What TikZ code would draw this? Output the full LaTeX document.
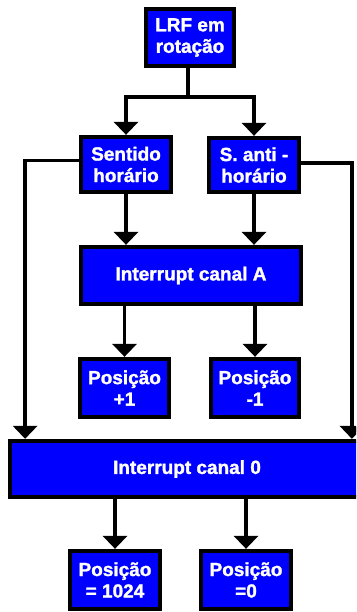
\documentclass[tikz,border=0pt]{standalone}
\usepackage{fontspec}
\setmainfont{Liberation Sans}[BoldFeatures={FakeBold=1.5}]
\usetikzlibrary{arrows.meta}

\begin{document}
\begin{tikzpicture}[x=1pt,y=-1pt,line width=3.8pt,
  blk/.style={draw=black,fill=blue,text=white,inner sep=0pt,align=center,
    font=\bfseries\fontsize{19}{21.5}\selectfont,minimum height=57.5pt},
  arr/.style={-{Triangle[length=13pt,width=24pt]}}]
\useasboundingbox (0,0) rectangle (356,612);
\clip (0,0) rectangle (356,612);
% ---------- boxes ----------
\node[blk,minimum width=88.5pt] (rot) at (190,37.5) {LRF em\\rotação};
\node[blk,minimum width=90.5pt,minimum height=55.5pt] (sent) at (126,164.5) {Sentido\\horário};
\node[blk,minimum width=90.5pt,minimum height=54.5pt] (anti) at (254,165) {S. anti -\\horário};
\node[blk,minimum width=220.5pt] (canA) at (191,275.5) {Interrupt canal A};
\node[blk,minimum width=89.5pt,minimum height=58.5pt] (mais) at (124.5,388) {Posição\\+1};
\node[blk,minimum width=88.5pt,minimum height=58.5pt] (menos) at (255,388) {Posição\\-1};
\node[blk,minimum width=354pt,minimum height=56.5pt] (can0) at (187,469) {Interrupt canal 0};
\node[blk,minimum width=90.5pt,minimum height=58.5pt] (mil) at (115,580) {Posição\\= 1024};
\node[blk,minimum width=90.5pt,minimum height=58.5pt] (zero) at (246,580) {Posição\\=0};
% ---------- connectors ----------
\coordinate (split) at (188,97);
\draw (rot.south -| split) -- (split);
\draw[arr] (split) -| (sent.north);
\draw[arr] (split) -| (anti.north);
\draw[arr] ([yshift=4pt]sent.west) -| ([xshift=17pt]can0.north west);
\draw[arr] ([yshift=2pt]anti.east) -| ([xshift=-14pt]can0.north east);
\draw[arr] (sent.south) -- (sent.south |- canA.north);
\draw[arr] (anti.south) -- (anti.south |- canA.north);
\draw[arr] (mais.north |- canA.south) -- (mais.north);
\draw[arr] (menos.north |- canA.south) -- (menos.north);
\draw[arr] (mil.north |- can0.south) -- (mil.north);
\draw[arr] (zero.north |- can0.south) -- (zero.north);
\end{tikzpicture}
\end{document}
